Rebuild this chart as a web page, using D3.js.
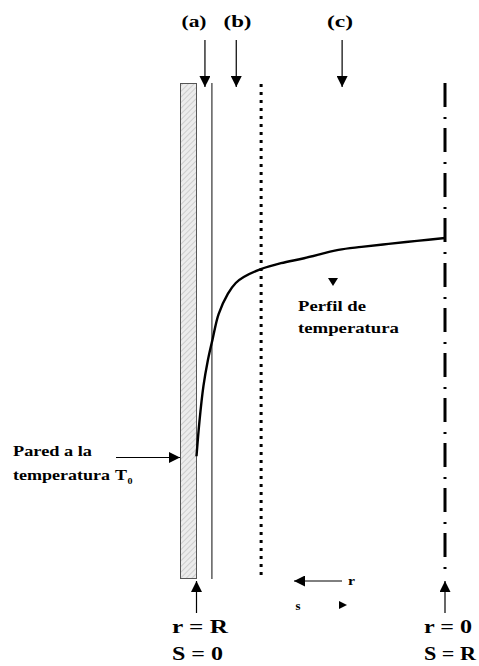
<!DOCTYPE html>
<html><head><meta charset="utf-8">
<script src="https://cdn.jsdelivr.net/npm/d3@7"></script>
<style>body{margin:0;background:#fff}svg{display:block}</style>
</head><body>
<script>
// s: normalized distance from wall (0) to centre (1); t: normalized temperature
const profileS = [0, 0.012, 0.028, 0.045, 0.065, 0.089, 0.126, 0.158, 0.19, 0.259, 0.34, 0.433, 0.571, 0.664, 0.773, 0.887, 1.0];
const profileT = [0.248, 0.319, 0.39, 0.44, 0.485, 0.535, 0.576, 0.598, 0.61, 0.626, 0.638, 0.648, 0.665, 0.671, 0.677, 0.683, 0.689];
const regionLabels = ["(a)", "(b)", "(c)"];
const regionS = [0.034, 0.16, 0.586];
const boundaryS = [0.062, 0.26]; // thin film edge, dotted boundary
const wallLabel = ["Pared a la", "temperatura", "T", "0"];
const profileLabel = ["Perfil de", "temperatura"];
const leftEnd = ["r = R", "S = 0"];
const rightEnd = ["r = 0", "S = R"];

const W = 479, H = 666;
const svg = d3.select("body").append("svg").attr("width", W).attr("height", H);
const x = d3.scaleLinear().domain([0, 1]).range([196.5, 445]);
const y = d3.scaleLinear().domain([0, 1]).range([579, 84]);
function txt(px, py, size, s, len) {
  const t = svg.append("text").attr("x", px).attr("y", py)
    .style("font-family", '"Liberation Serif"').style("font-weight", "bold").style("font-size", size + "px").text(s);
  if (len) t.attr("textLength", len).attr("lengthAdjust", "spacingAndGlyphs");
  return t;
}

const defs = svg.append("defs");
const pat = defs.append("pattern").attr("id", "hatch").attr("patternUnits", "userSpaceOnUse")
  .attr("width", 4).attr("height", 4).attr("patternTransform", "rotate(45)");
pat.append("rect").attr("width", 4).attr("height", 4).attr("fill", "#ececec");
pat.append("line").attr("x1", 0).attr("y1", 0).attr("x2", 0).attr("y2", 4).attr("stroke", "#c4c4c4").attr("stroke-width", 1.5);
defs.append("marker").attr("id", "ah").attr("viewBox", "0 0 10 10").attr("refX", 10).attr("refY", 5)
  .attr("markerWidth", 11).attr("markerHeight", 11).attr("markerUnits", "userSpaceOnUse").attr("orient", "auto")
  .append("path").attr("d", "M0,0L10,5L0,10Z").attr("fill", "#000");

// wall
svg.append("rect").attr("x", 180.5).attr("y", 83.5).attr("width", x(0) - 180.5).attr("height", 495)
  .attr("fill", "url(#hatch)").attr("stroke", "#555").attr("stroke-width", 1);

// thin film line
svg.append("line").attr("x1", x(boundaryS[0])).attr("x2", x(boundaryS[0])).attr("y1", 83).attr("y2", 579)
  .attr("stroke", "#333").attr("stroke-width", 1.2);
// dotted boundary
svg.append("line").attr("x1", x(boundaryS[1])).attr("x2", x(boundaryS[1])).attr("y1", 84).attr("y2", 576)
  .attr("stroke", "#000").attr("stroke-width", 3).attr("stroke-dasharray", "3,5");
// centreline dash-dot
svg.append("line").attr("x1", x(1)).attr("x2", x(1)).attr("y1", 83).attr("y2", 576)
  .attr("stroke", "#000").attr("stroke-width", 3).attr("stroke-dasharray", "24,10,2,9");

// profile curve
const pts = profileS.map((s, i) => [x(s), y(profileT[i])]);
svg.append("path").attr("d", d3.line().curve(d3.curveCatmullRom)(pts))
  .attr("fill", "none").attr("stroke", "#000").attr("stroke-width", 2.4);

// top labels & arrows
const labelX = [181.5, 223.5, 327];
const labelW = [25, 28, 26];
regionLabels.forEach((l, i) => txt(labelX[i], 27, 16, l, labelW[i]));
regionS.forEach(s => {
  svg.append("line").attr("x1", x(s)).attr("x2", x(s)).attr("y1", 40).attr("y2", 87)
    .attr("stroke", "#000").attr("stroke-width", 1.2).attr("marker-end", "url(#ah)");
});

// wall label
txt(13, 456, 15, wallLabel[0], 79);
txt(13, 480, 15, wallLabel[1], 97);
txt(115, 480, 15, wallLabel[2], 12);
txt(127.5, 484, 9, wallLabel[3], 5);
svg.append("line").attr("x1", 116).attr("x2", 180).attr("y1", 457.5).attr("y2", 457.5)
  .attr("stroke", "#000").attr("stroke-width", 1.2).attr("marker-end", "url(#ah)");

// profile label
txt(298, 310.5, 15, profileLabel[0], 68);
txt(298, 332.5, 15, profileLabel[1], 101);
svg.append("path").attr("d", "M328,278L338,278L333,286Z").attr("fill", "#000");

// bottom arrows
[0, 1].forEach(s => {
  svg.append("line").attr("x1", x(s)).attr("x2", x(s)).attr("y1", 613).attr("y2", 581)
    .attr("stroke", "#000").attr("stroke-width", 1.2).attr("marker-end", "url(#ah)");
});
txt(172, 633, 19, leftEnd[0], 56);
txt(172, 660, 19, leftEnd[1], 51);
txt(424, 633, 19, rightEnd[0], 48);
txt(424, 660, 19, rightEnd[1], 52);

// r / s direction indicator
svg.append("line").attr("x1", 342).attr("x2", 294).attr("y1", 581).attr("y2", 581)
  .attr("stroke", "#000").attr("stroke-width", 1).attr("marker-end", "url(#ah)");
txt(348, 585, 13, "r", 7);
txt(295.5, 610, 13, "s", 5);
svg.append("path").attr("d", "M339,601L347,605L339,609Z").attr("fill", "#000");
</script>
</body></html>
